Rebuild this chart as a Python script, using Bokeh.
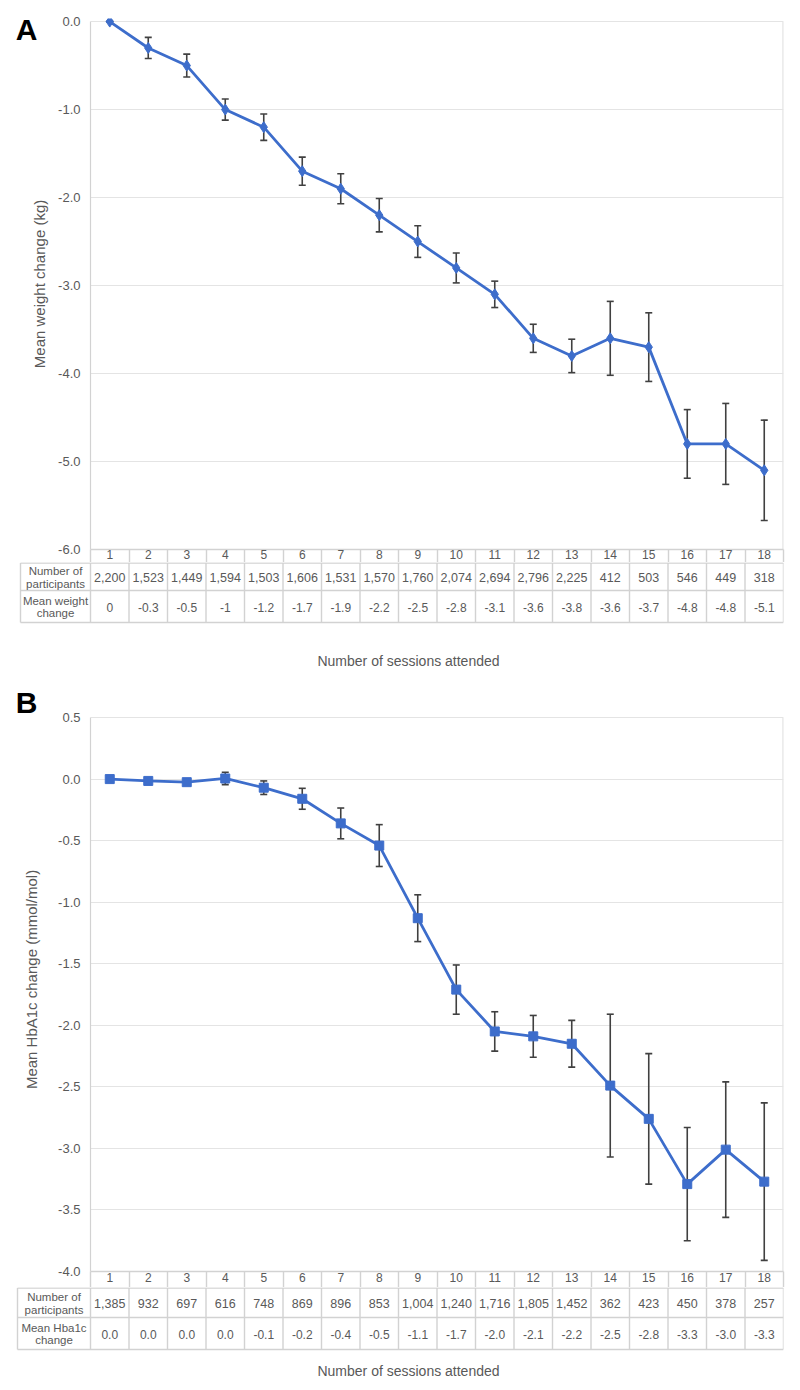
from bokeh.plotting import figure
from bokeh.models import (Range1d, FixedTicker, PrintfTickFormatter, ColumnDataSource,
                          Whisker, TeeHead, LinearAxis, CustomJSTickFormatter)
from bokeh.layouts import column
from bokeh.embed import file_html
from bokeh.resources import INLINE
from bokeh.core.properties import value

# ---------------- data ----------------
sessions = list(range(1, 19))

weight_n = ["2,200", "1,523", "1,449", "1,594", "1,503", "1,606", "1,531", "1,570", "1,760",
            "2,074", "2,694", "2,796", "2,225", "412", "503", "546", "449", "318"]
weight_mean = [0, -0.3, -0.5, -1.0, -1.2, -1.7, -1.9, -2.2, -2.5, -2.8, -3.1, -3.6, -3.8,
               -3.6, -3.7, -4.8, -4.8, -5.1]
weight_err = [0, 0.12, 0.13, 0.12, 0.15, 0.16, 0.17, 0.19, 0.18, 0.17, 0.15, 0.16, 0.19,
              0.42, 0.39, 0.39, 0.46, 0.57]
weight_labels = ["0", "-0.3", "-0.5", "-1", "-1.2", "-1.7", "-1.9", "-2.2", "-2.5", "-2.8",
                 "-3.1", "-3.6", "-3.8", "-3.6", "-3.7", "-4.8", "-4.8", "-5.1"]

hba_n = ["1,385", "932", "697", "616", "748", "869", "896", "853", "1,004", "1,240", "1,716",
         "1,805", "1,452", "362", "423", "450", "378", "257"]
hba_mean = [0.0, -0.015, -0.025, 0.005, -0.07, -0.16, -0.36, -0.54, -1.13, -1.71, -2.05,
            -2.09, -2.15, -2.49, -2.76, -3.29, -3.01, -3.27]
hba_err = [0, 0.01, 0.02, 0.05, 0.055, 0.085, 0.125, 0.17, 0.19, 0.2, 0.16, 0.17, 0.19,
           0.58, 0.53, 0.46, 0.55, 0.64]
hba_labels = ["0.0", "0.0", "0.0", "0.0", "-0.1", "-0.2", "-0.4", "-0.5", "-1.1", "-1.7",
              "-2.0", "-2.1", "-2.2", "-2.5", "-2.8", "-3.3", "-3.0", "-3.3"]

weight_ticks = [-6, -5, -4, -3, -2, -1, 0]
hba_ticks = [-4, -3.5, -3, -2.5, -2, -1.5, -1, -0.5, 0, 0.5]

# ---------------- style ----------------
FONT = "Liberation Sans"
BLUE = "#3d6dcb"
GRID = "#e4e4e4"
BORDER = "#d2d2d2"
TXT = "#595959"
ERR = "#404040"
W = 793
FRAME_LEFT = 90      # px from figure left to plot frame
CELL = 38.5          # px per category


def chart(height, top_border, bottom_border, y0, y1, ticks, ylabel, means, errs, marker,
          msize, label_standoff, letter, letter_y, letter_standoff):
    p = figure(width=W, height=height, x_range=Range1d(0.5, 18.5), y_range=Range1d(y0, y1),
               output_backend="svg", toolbar_location=None,
               min_border_left=FRAME_LEFT, min_border_right=10, min_border_top=top_border,
               min_border_bottom=bottom_border)
    p.frame_align = False
    p.outline_line_color = None
    p.xgrid.visible = False
    p.ygrid.grid_line_color = GRID
    p.ygrid.grid_line_width = 1.2

    # x axis acts as the header row of the table (session numbers)
    xa = p.xaxis[0]
    xa.ticker = FixedTicker(ticks=sessions, minor_ticks=[k + 0.5 for k in range(19)])
    xa.axis_line_color = BORDER
    xa.axis_line_width = 1.4
    xa.major_tick_line_color = None
    xa.major_tick_out = 0
    xa.major_tick_in = 0
    xa.minor_tick_in = 0
    xa.minor_tick_out = bottom_border
    xa.minor_tick_line_color = BORDER
    xa.minor_tick_line_width = 1.4
    xa.major_label_standoff = -bottom_border + (0 if bottom_border < 15 else 1)
    xa.major_label_text_font = FONT
    xa.major_label_text_font_size = "12px"
    xa.major_label_text_color = TXT

    ya = p.yaxis[0]
    ya.ticker = FixedTicker(ticks=ticks)
    ya.formatter = PrintfTickFormatter(format="%.1f")
    ya.bounds = (ticks[0], ticks[-1])
    ya.axis_line_color = BORDER
    ya.axis_line_width = 1.2
    ya.major_tick_line_color = None
    ya.minor_tick_line_color = None
    ya.major_tick_out = 0
    ya.major_tick_in = 0
    ya.minor_tick_out = 0
    ya.major_label_standoff = 10
    ya.major_label_text_font = FONT
    ya.major_label_text_font_size = "13px"
    ya.major_label_text_color = TXT
    ya.axis_label = ylabel
    ya.axis_label_text_font = FONT
    ya.axis_label_text_font_size = "15px"
    ya.axis_label_text_font_style = "normal"
    ya.axis_label_text_color = TXT
    ya.axis_label_standoff = label_standoff

    # right edge of the plot area
    p.segment([18.5], [ticks[0]], [18.5], [ticks[-1]], line_color=GRID, line_width=2.4)

    src = ColumnDataSource(dict(x=sessions, y=means,
                                lo=[m - e for m, e in zip(means, errs)],
                                hi=[m + e for m, e in zip(means, errs)]))
    wk = Whisker(base="x", upper="hi", lower="lo", source=src, line_color=ERR, line_width=1.6,
                 upper_head=TeeHead(size=7, line_color=ERR, line_width=1.6),
                 lower_head=TeeHead(size=7, line_color=ERR, line_width=1.6))
    p.add_layout(wk)
    p.line("x", "y", source=src, line_color=BLUE, line_width=2.8)
    p.scatter("x", "y", source=src, marker=marker, size=msize, fill_color=BLUE,
              line_color=BLUE)

    # panel letter as the single label of an outer, line-less axis
    la = LinearAxis(ticker=FixedTicker(ticks=[letter_y]),
                    formatter=CustomJSTickFormatter(code="return '%s'" % letter),
                    axis_line_color=None, major_tick_line_color=None,
                    minor_tick_line_color=None, major_tick_out=0, major_tick_in=0,
                    minor_tick_out=0, major_label_standoff=letter_standoff,
                    major_label_text_font=FONT, major_label_text_font_size="30px",
                    major_label_text_font_style="bold", major_label_text_color="black")
    p.add_layout(la, "left")
    return p


def table(height, label_left_px, edges, nvals, mvals, mean_label, caption_y):
    def cx(px):  # page x -> category coordinate
        return 0.5 + (px - FRAME_LEFT) / CELL
    p = figure(width=W, height=height, x_range=Range1d(cx(0), 18.5),
               y_range=Range1d(height, 0), output_backend="svg", toolbar_location=None,
               x_axis_location=None, y_axis_location=None, min_border_left=0,
               min_border_right=10, min_border_top=0, min_border_bottom=0)
    p.frame_align = False
    p.outline_line_color = None
    p.grid.visible = False
    lab_x = cx(label_left_px)

    # vertical borders
    vx = [k + 0.5 for k in range(19)] + [lab_x]
    p.segment(vx, [edges[0]] * 20, vx, [edges[2]] * 20, line_color=BORDER, line_width=1.4)
    # horizontal borders
    p.segment([lab_x] * 3, edges, [18.5] * 3, edges, line_color=BORDER, line_width=1.4)

    mid = [(edges[i] + edges[i + 1]) / 2 + 0.5 for i in range(2)]
    common = dict(text_font=value(FONT), text_color=TXT, text_align="center",
                  text_baseline="middle")
    p.text(sessions, [mid[0]] * 18, text=nvals, text_font_size="12.5px", **common)
    p.text(sessions, [mid[1]] * 18, text=mvals, text_font_size="12px", **common)
    lx = (lab_x + 0.5) / 2
    p.text([lx, lx], mid, text=["Number of\nparticipants", mean_label],
           text_font_size="11.5px", text_line_height=1.05, **common)
    p.text([cx(408)], [caption_y], text=["Number of sessions attended"],
           text_font_size="14px", **common)
    return p


# page rows: chart A 0-562, table A 562-680, chart B 680-1287, table B 1287-1387
pA = chart(562, 18, 13, -6, 0.035, weight_ticks, "Mean weight change (kg)", weight_mean,
           weight_err, "diamond", 11, 7, "A", -0.09, -9)
tA = table(118, 20, [0.5, 28, 60], weight_n, weight_labels, "Mean weight\nchange", 98)
pB = chart(607, 7, 16, -4, 0.744, hba_ticks, "Mean HbA1c change (mmol/mol)", hba_mean,
           hba_err, "square", 9, 15, "B", 0.626, -17)
tB = table(100, 17, [0.5, 30, 62], hba_n, hba_labels, "Mean Hba1c\nchange", 83)

layout = column(pA, tA, pB, tB, spacing=0)
open("out.html", "w").write(file_html(layout, INLINE))
